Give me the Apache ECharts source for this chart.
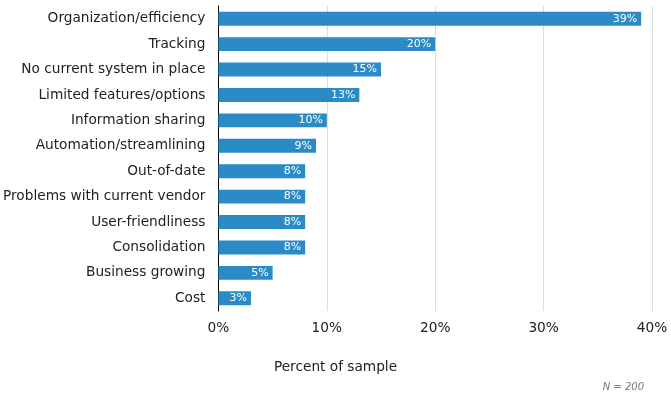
<!DOCTYPE html>
<html>
<head>
<meta charset="utf-8">
<script src="https://cdn.jsdelivr.net/npm/echarts@6/dist/echarts.min.js"></script>
<style>
  html, body { margin: 0; padding: 0; background: #fff; }
  #chart { width: 671px; height: 396px; }
</style>
</head>
<body>
<div id="chart"></div>
<script>
const categories = [
  'Organization/efficiency',
  'Tracking',
  'No current system in place',
  'Limited features/options',
  'Information sharing',
  'Automation/streamlining',
  'Out-of-date',
  'Problems with current vendor',
  'User-friendliness',
  'Consolidation',
  'Business growing',
  'Cost'
]
const values = [39, 20, 15, 13, 10, 9, 8, 8, 8, 8, 5, 3]
const xTicks = [0, 10, 20, 30, 40]

const font = 'DejaVu Sans, Verdana, sans-serif'
const chart = echarts.init(document.getElementById('chart'))

chart.setOption({
  animation: false,
  grid: { left: 218, right: 19, top: 6, bottom: 85 },
  xAxis: {
    type: 'value',
    min: xTicks[0],
    max: xTicks[xTicks.length - 1],
    interval: 10,
    axisLine: { show: false },
    axisTick: { show: false },
    splitLine: { lineStyle: { color: '#dddddd', width: 1 } },
    axisLabel: {
      formatter: '{value}%',
      fontFamily: font,
      fontSize: 13.7,
      color: '#222',
      margin: 10
    }
  },
  yAxis: {
    type: 'category',
    inverse: true,
    data: categories,
    axisLine: { show: true, lineStyle: { color: '#000', width: 1 } },
    axisTick: { show: false },
    axisLabel: {
      fontFamily: font,
      fontSize: 13.7,
      color: '#222',
      margin: 13
    }
  },
  series: [{
    type: 'bar',
    data: values,
    barCategoryGap: '45%',
    itemStyle: { color: '#2a8bc6' },
    label: {
      show: true,
      position: 'insideRight',
      formatter: '{c}%',
      color: '#fff',
      fontFamily: font,
      fontSize: 11,
      distance: 4
    }
  }],
  graphic: [
    {
      type: 'text',
      left: 'center',
      top: 360,
      style: { text: 'Percent of sample', font: '13.7px ' + font, fill: '#222' }
    },
    {
      type: 'text',
      right: 27,
      top: 382,
      style: { text: 'N = 200', font: 'italic 10px ' + font, fill: '#777' }
    }
  ]
})
</script>
</body>
</html>
